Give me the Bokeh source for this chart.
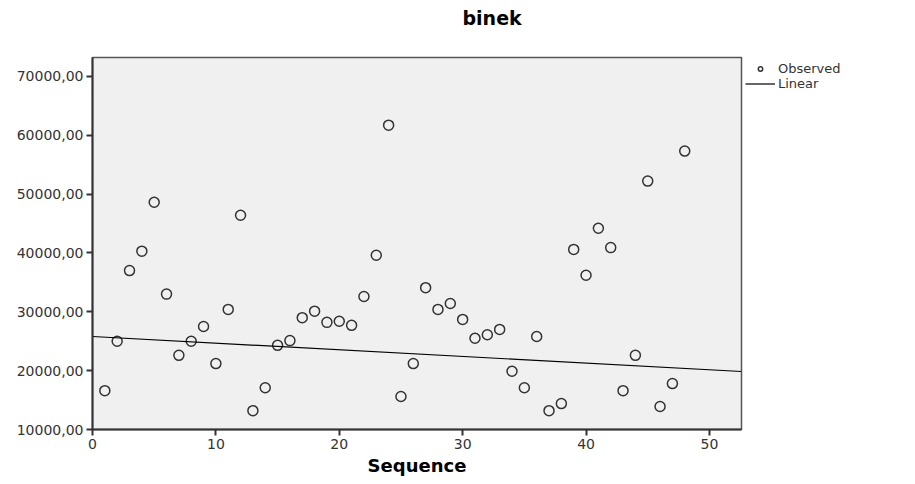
from bokeh.plotting import figure
from bokeh.models import (Range1d, FixedTicker, CustomJSTickFormatter, Legend,
                          LegendItem, Title, ColumnDataSource)
from bokeh.embed import file_html
from bokeh.resources import INLINE

# ---- data ----
sequence = list(range(1, 49))
observed = [16600, 25000, 37000, 40300, 48600, 33000, 22600, 25000, 27500, 21200,
            30400, 46400, 13200, 17100, 24300, 25100, 29000, 30100, 28200, 28400,
            27700, 32600, 39600, 61700, 15600, 21200, 34100, 30400, 31400, 28700,
            25500, 26100, 27000, 19900, 17100, 25800, 13200, 14400, 40600, 36200,
            44200, 40900, 16600, 22600, 52200, 13900, 17800, 57300]
fit_intercept = 25800
fit_slope = -113
x_ticks = [0, 10, 20, 30, 40, 50]
y_ticks = [10000, 20000, 30000, 40000, 50000, 60000, 70000]
x_start, x_end = 0, 52.6
y_start, y_end = 10000, 73200
title_text = "binek"
x_label = "Sequence"

FONT = "DejaVu Sans"
DARK = "#333333"

p = figure(frame_width=649, frame_height=372, output_backend="svg",
           toolbar_location=None,
           x_range=Range1d(x_start, x_end), y_range=Range1d(y_start, y_end),
           min_border_left=92, min_border_right=8, min_border_top=57,
           min_border_bottom=50)
p.title = None
p.background_fill_color = "#f0f0f0"
p.border_fill_color = "white"
p.outline_line_color = "#555555"
p.outline_line_width = 1.5
p.grid.visible = False

t = Title(text=title_text + "\n", align="left", offset=370, text_font=FONT,
          text_font_size="19px", text_font_style="bold", text_color="black",
          text_line_height=1.06)
p.add_layout(t, "above")

for ax in (p.xaxis[0], p.yaxis[0]):
    ax.axis_line_color = DARK
    ax.axis_line_width = 2
    ax.major_tick_line_color = DARK
    ax.major_tick_line_width = 2
    ax.major_tick_out = 6
    ax.major_tick_in = 0
    ax.minor_tick_line_color = None
    ax.major_label_text_font = FONT
    ax.major_label_text_font_size = "14px"
    ax.major_label_text_color = DARK
    ax.major_label_standoff = 3

p.xaxis.ticker = FixedTicker(ticks=x_ticks)
p.yaxis.ticker = FixedTicker(ticks=y_ticks)
p.yaxis.formatter = CustomJSTickFormatter(
    code="return tick.toFixed(2).replace('.', ',');")
p.xaxis.axis_label = x_label
p.xaxis.axis_label_text_font = FONT
p.xaxis.axis_label_text_font_size = "18px"
p.xaxis.axis_label_text_font_style = "bold"
p.xaxis.axis_label_text_color = "black"
p.xaxis.axis_label_standoff = 3

src = ColumnDataSource(dict(x=sequence, y=observed))
pts = p.scatter("x", "y", source=src, marker="circle", size=10,
                fill_color=None, line_color=DARK, line_width=1.5)

fit_x = [x_start, x_end]
fit_y = [fit_intercept + fit_slope * v for v in fit_x]
ln = p.line(fit_x, fit_y, line_color="black", line_width=1.2)

legend = Legend(items=[LegendItem(label="Observed", renderers=[pts]),
                       LegendItem(label="Linear", renderers=[ln])],
                location="top_left", orientation="vertical",
                label_text_font=FONT, label_text_font_size="13px",
                label_text_color=DARK, glyph_width=30, glyph_height=11,
                label_height=11, label_standoff=3, spacing=0, padding=0,
                margin=4, border_line_color=None, background_fill_alpha=0)
p.add_layout(legend, "right")

open("out.html", "w").write(file_html(p, INLINE))
